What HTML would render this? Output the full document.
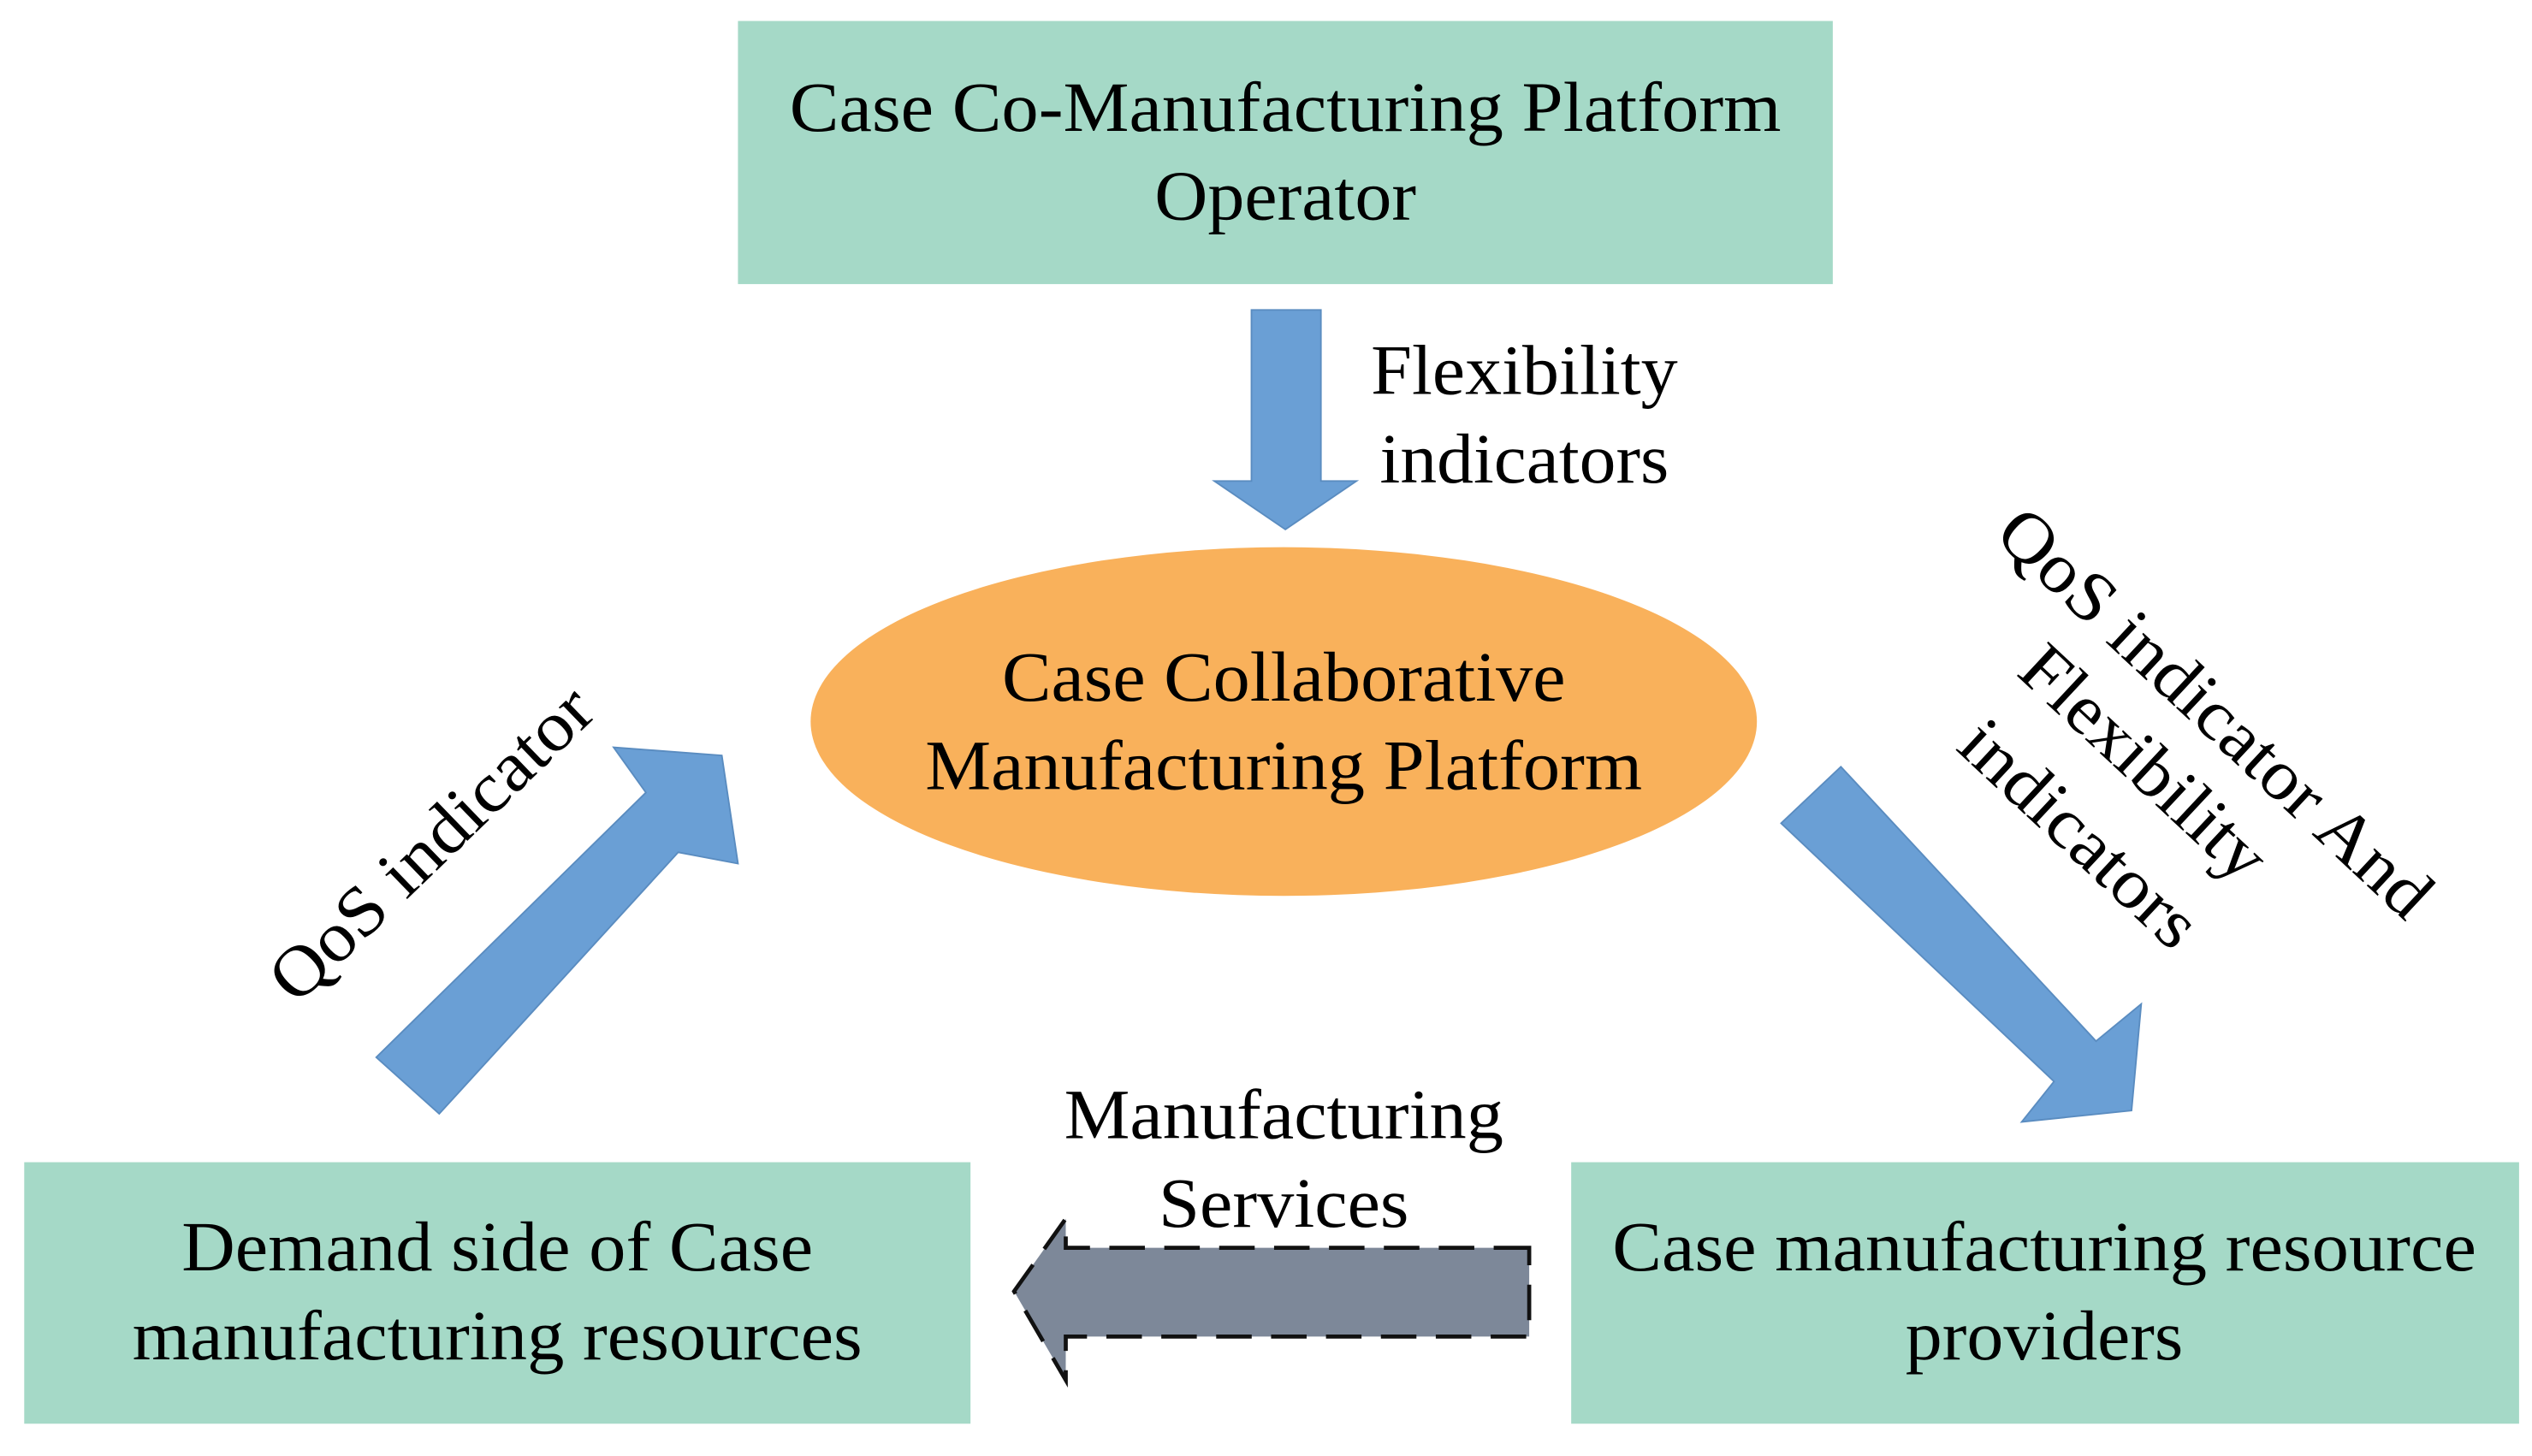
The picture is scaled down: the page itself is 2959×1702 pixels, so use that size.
<!DOCTYPE html>
<html><head><meta charset="utf-8"><style>html,body{margin:0;padding:0;background:#fff}svg{display:block}</style></head>
<body>
<svg width="2959" height="1702" viewBox="0 0 1568 902" preserveAspectRatio="none" xmlns="http://www.w3.org/2000/svg" font-family="Liberation Serif, serif" font-size="44" fill="#000">
<rect x="457" y="13" width="678" height="163" fill="#a5d9c7"/>
<text x="796" y="81" text-anchor="middle" textLength="614" lengthAdjust="spacingAndGlyphs">Case Co-Manufacturing Platform</text>
<text x="796" y="136" text-anchor="middle" textLength="162" lengthAdjust="spacingAndGlyphs">Operator</text>
<polygon points="775,192 818,192 818,298 840,298 796,328 752,298 775,298" fill="#6a9fd5" stroke="#5a8cc0" stroke-width="1"/>
<text x="944" y="244" text-anchor="middle" textLength="190" lengthAdjust="spacingAndGlyphs">Flexibility</text>
<text x="944" y="299" text-anchor="middle" textLength="179" lengthAdjust="spacingAndGlyphs">indicators</text>
<ellipse cx="795" cy="447" rx="293" ry="108" fill="#f9b15b"/>
<text x="795" y="434" text-anchor="middle" textLength="349" lengthAdjust="spacingAndGlyphs">Case Collaborative</text>
<text x="795" y="489" text-anchor="middle" textLength="444" lengthAdjust="spacingAndGlyphs">Manufacturing Platform</text>
<rect x="15" y="720" width="586" height="162" fill="#a5d9c7"/>
<text x="308" y="787" text-anchor="middle" textLength="391" lengthAdjust="spacingAndGlyphs">Demand side of Case</text>
<text x="308" y="842" text-anchor="middle" textLength="452" lengthAdjust="spacingAndGlyphs">manufacturing resources</text>
<rect x="973" y="720" width="587" height="162" fill="#a5d9c7"/>
<text x="1266" y="787" text-anchor="middle" textLength="535" lengthAdjust="spacingAndGlyphs">Case manufacturing resource</text>
<text x="1266" y="842" text-anchor="middle" textLength="172" lengthAdjust="spacingAndGlyphs">providers</text>
<polygon points="233,655 272,690 420,528 457,535 447,468 380,463 400,491" fill="#6a9fd5" stroke="#5a8cc0" stroke-width="1"/>
<polygon points="1103,510 1140,475 1298,645 1326,622 1320,688 1252,695 1272,670" fill="#6a9fd5" stroke="#5a8cc0" stroke-width="1"/>
<polygon points="947,773 660,773 660,755 628,800 660,855 660,828 947,828" fill="#7d8899" stroke="#111" stroke-width="2.5" stroke-dasharray="22,12"/>
<text x="795" y="705" text-anchor="middle" textLength="272" lengthAdjust="spacingAndGlyphs">Manufacturing</text>
<text x="795" y="760" text-anchor="middle" textLength="155" lengthAdjust="spacingAndGlyphs">Services</text>
<text transform="translate(277,533) rotate(-44)" text-anchor="middle" textLength="260" lengthAdjust="spacingAndGlyphs">QoS indicator</text>
<text transform="translate(1362,452) rotate(43)" text-anchor="middle" textLength="350" lengthAdjust="spacingAndGlyphs">QoS indicator And</text>
<text transform="translate(1318,483) rotate(43)" text-anchor="middle" textLength="192" lengthAdjust="spacingAndGlyphs">Flexibility</text>
<text transform="translate(1278,527) rotate(43)" text-anchor="middle" textLength="185" lengthAdjust="spacingAndGlyphs">indicators</text>
</svg>
</body></html>
